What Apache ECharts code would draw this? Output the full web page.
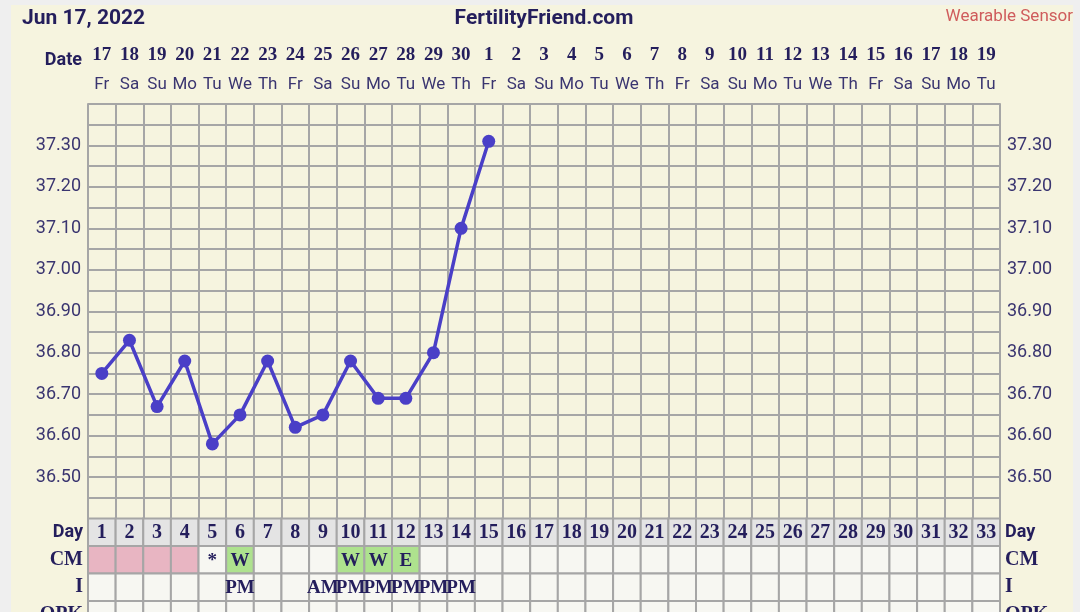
<!DOCTYPE html>
<html>
<head>
<meta charset="utf-8">
<script src="https://cdn.jsdelivr.net/npm/echarts@6/dist/echarts.min.js"></script>
<style>
html,body{margin:0;padding:0;background:#efefef;}
#chart{width:1080px;height:612px;}
</style>
</head>
<body>
<div id="chart"></div>
<script>
// ---- data ----
const cycleDays = ['1','2','3','4','5','6','7','8','9','10','11','12','13','14','15','16','17','18','19','20','21','22','23','24','25','26','27','28','29','30','31','32','33'];
const dates = ['17','18','19','20','21','22','23','24','25','26','27','28','29','30','1','2','3','4','5','6','7','8','9','10','11','12','13','14','15','16','17','18','19'];
const weekdays = ['Fr','Sa','Su','Mo','Tu','We','Th','Fr','Sa','Su','Mo','Tu','We','Th','Fr','Sa','Su','Mo','Tu','We','Th','Fr','Sa','Su','Mo','Tu','We','Th','Fr','Sa','Su','Mo','Tu'];
const temps = [36.75, 36.83, 36.67, 36.78, 36.58, 36.65, 36.78, 36.62, 36.65, 36.78, 36.69, 36.69, 36.80, 37.10, 37.31];
const cmText = ['', '', '', '', '*', 'W', '', '', '', 'W', 'W', 'E'];
const cmType = ['M', 'M', 'M', 'M', '', 'F', '', '', '', 'F', 'F', 'F'];
const intercourse = ['', '', '', '', '', 'PM', '', '', 'AM', 'PM', 'PM', 'PM', 'PM', 'PM'];
const rowLabels = ['Day', 'CM', 'I', 'OPK'];
const yTicks = {min: 36.40, max: 37.40, step: 0.05};

// ---- styles ----
const NAVY = '#241e5c';
const SOFT = '#3a3570';
const GRIDC = '#a6a6a6';
const cellFill = {M: '#e8b5c2', F: '#aee28e'};

const tableData = [];
for (let r = 0; r < rowLabels.length; r++) {
  for (let d = 0; d < cycleDays.length; d++) tableData.push([d, r]);
}
function cellText(d, r) {
  if (r === 0) return cycleDays[d];
  if (r === 1) return cmText[d] || '';
  if (r === 2) return intercourse[d] || '';
  return '';
}
function cellColor(d, r) {
  if (r === 0) return '#e4e4e4';
  if (r === 1 && cmType[d]) return cellFill[cmType[d]];
  return '#f7f7f2';
}
function renderCell(params, api) {
  const d = api.value(0), r = api.value(1);
  const c = api.coord([d, r]);
  const s = api.size([1, 1]);
  const t = cellText(d, r);
  const children = [{
    type: 'rect',
    shape: {x: c[0] - s[0] / 2, y: c[1] - s[1] / 2, width: s[0], height: s[1]},
    style: {fill: cellColor(d, r), stroke: GRIDC, lineWidth: 2}
  }];
  if (t) {
    children.push({
      type: 'text', x: c[0], y: c[1] + 1, z2: 10,
      style: {text: t, fill: NAVY, align: 'center', verticalAlign: 'middle',
        font: 'bold ' + (r === 0 ? 20 : 19) + 'px "Liberation Serif"'}
    });
  }
  return {type: 'group', children: children};
}
function tempLabel(v) {
  const k = Math.round(v * 100);
  if (k % 10 !== 0 || k === 3640 || k === 3740) return '';
  return (k / 100).toFixed(2);
}
const rowLabelRich = {
  s: {fontFamily: 'Roboto', fontWeight: 'bold', fontSize: 18, color: NAVY},
  b: {fontFamily: 'Liberation Serif', fontWeight: 'bold', fontSize: 20, color: NAVY}
};
function rowFmt(v) { return v === 'Day' ? '{s|Day}' : '{b|' + v + '}'; }

const chart = echarts.init(document.getElementById('chart'), null, {renderer: 'canvas'});
chart.setOption({
  animation: false,
  backgroundColor: '#efefef',
  graphic: [
    {type: 'rect', z: -10, shape: {x: 11, y: 5, width: 1062, height: 607}, style: {fill: '#f6f4df'}},
    {type: 'text', x: 22, y: 19, style: {text: 'Jun 17, 2022', font: 'bold 21px Roboto', fill: NAVY, verticalAlign: 'middle'}},
    {type: 'text', x: 544, y: 19, style: {text: 'FertilityFriend.com', font: 'bold 21px Roboto', fill: NAVY, align: 'center', verticalAlign: 'middle'}},
    {type: 'text', x: 1073, y: 17, style: {text: 'Wearable Sensor', font: '17px Roboto', fill: '#cf5c5c', align: 'right', verticalAlign: 'middle'}},
    {type: 'text', x: 82, y: 60, style: {text: 'Date', font: 'bold 18px Roboto', fill: NAVY, align: 'right', verticalAlign: 'middle'}}
  ],
  grid: [
    {left: 88, right: 80, top: 104, height: 414.5, outerBoundsMode: 'none', show: false},
    {left: 88, right: 80, top: 518.5, height: 110, outerBoundsMode: 'none'}
  ],
  xAxis: [
    {type: 'category', gridIndex: 0, data: cycleDays, boundaryGap: true,
      axisLine: {show: false}, axisTick: {show: false}, axisLabel: {show: false},
      splitLine: {show: true, interval: 0, lineStyle: {color: GRIDC, width: 2}}},
    {type: 'category', gridIndex: 0, position: 'top', data: dates, boundaryGap: true,
      axisLine: {show: false}, axisTick: {show: false}, splitLine: {show: false},
      axisLabel: {interval: 0, margin: 5, hideOverlap: false,
        formatter: function (v, i) { return '{n|' + v + '}\n{d|' + weekdays[i] + '}'; },
        rich: {
          n: {fontFamily: 'Liberation Serif', fontWeight: 'bold', fontSize: 19, color: NAVY, lineHeight: 29},
          d: {fontFamily: 'Roboto', fontSize: 17, color: SOFT, lineHeight: 29}
        }}},
    {type: 'category', gridIndex: 1, data: cycleDays, boundaryGap: true,
      axisLine: {show: false}, axisTick: {show: false}, axisLabel: {show: false}, splitLine: {show: false}}
  ],
  yAxis: [
    {type: 'value', gridIndex: 0, min: yTicks.min, max: yTicks.max, interval: yTicks.step,
      axisLine: {show: true, lineStyle: {color: GRIDC, width: 2}}, axisTick: {show: false},
      splitLine: {show: true, lineStyle: {color: GRIDC, width: 2}},
      axisLabel: {margin: 7, formatter: tempLabel, fontFamily: 'Roboto', fontSize: 18, color: SOFT}},
    {type: 'value', gridIndex: 0, position: 'right', min: yTicks.min, max: yTicks.max, interval: yTicks.step,
      axisLine: {show: true, lineStyle: {color: GRIDC, width: 2}}, axisTick: {show: false},
      splitLine: {show: false},
      axisLabel: {margin: 7, formatter: tempLabel, fontFamily: 'Roboto', fontSize: 18, color: SOFT}},
    {type: 'category', gridIndex: 1, data: rowLabels, inverse: true,
      axisLine: {show: false}, axisTick: {show: false}, splitLine: {show: false},
      axisLabel: {margin: 5, formatter: rowFmt, rich: rowLabelRich}},
    {type: 'category', gridIndex: 1, position: 'right', data: rowLabels, inverse: true,
      axisLine: {show: false}, axisTick: {show: false}, splitLine: {show: false},
      axisLabel: {margin: 5, formatter: rowFmt, rich: rowLabelRich}}
  ],
  series: [
    {type: 'custom', xAxisIndex: 2, yAxisIndex: 2, renderItem: renderCell, data: tableData, z: 1},
    {type: 'line', xAxisIndex: 0, yAxisIndex: 0, data: temps, symbol: 'circle', symbolSize: 13,
      lineStyle: {color: '#4a3fc7', width: 3.5}, itemStyle: {color: '#4a3fc7'}, z: 5}
  ]
});
</script>
</body>
</html>
